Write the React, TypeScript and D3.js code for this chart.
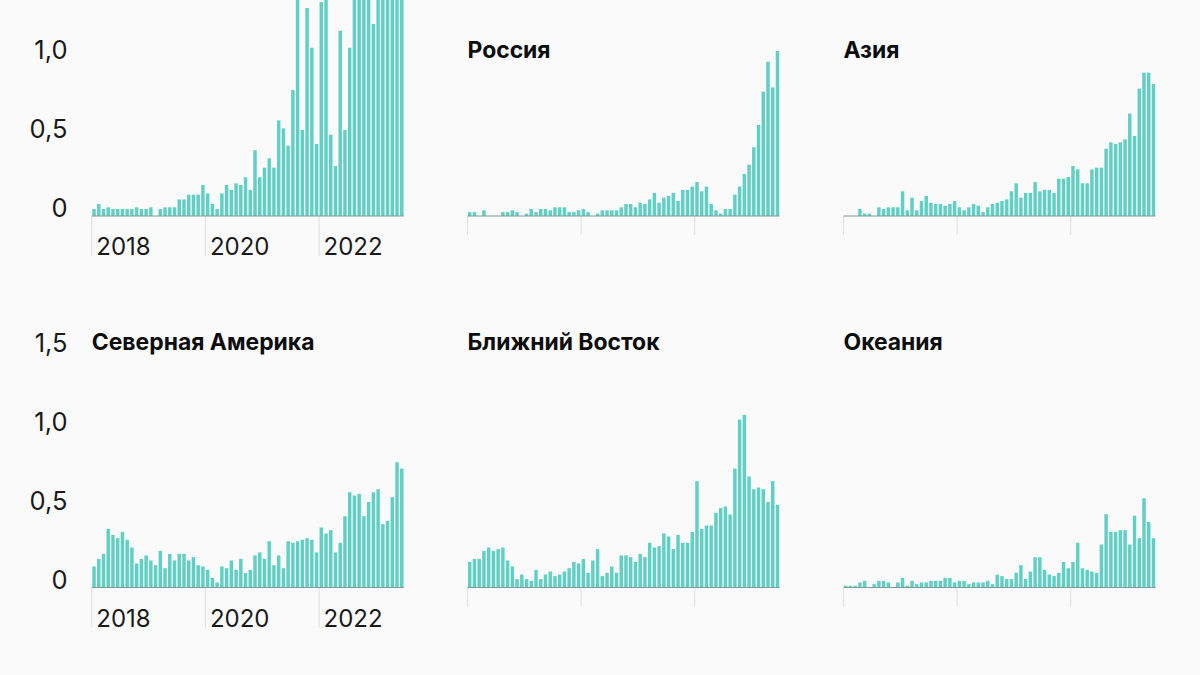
import * as d3 from "d3";

// 66 months, Jan 2018 - Jun 2023
const months = d3.timeMonth.range(new Date(2018, 0, 1), new Date(2023, 6, 1));
const yearTicks = [new Date(2018, 0, 1), new Date(2020, 0, 1), new Date(2022, 0, 1)];

const world = [
  .044, .076, .044, .055, .044, .044, .044, .044, .044, .055, .044, .044, .055, 0, .044, .055, .055, .055,
  .105, .105, .135, .135, .135, .196, .143, .076, .044, .143, .196, .165, .207, .196, .245, .165, .416,
  .245, .306, .365, .306, .605, .555, .445, .797, 1.5, .544, 1.316, 1.065, .456, 1.354, 1.42, .515, .316,
  1.173, .544, 1.065, 1.5, 1.6, 1.55, 1.7, 1.215, 1.6, 1.65, 1.7, 1.6, 1.8, 1.7,
];
const russia = [
  .025, .025, 0, .036, 0, 0, 0, .025, .025, .036, .025, 0, .015, .044, .025, .044, .044, .036, .055, .055,
  .055, .025, .025, .036, .044, .025, 0, .015, .036, .036, .036, .036, .055, .076, .076, .055, .084, .076,
  .105, .146, .084, .116, .127, .146, .095, .165, .165, .186, .215, .156, .186, .076, .036, .015, .044, .044,
  .135, .186, .266, .325, .435, .576, .787, .977, .814, 1.044,
];
const asia = [
  0, 0, 0, .044, .015, .015, 0, .055, .044, .055, .055, .055, .156, .036, .116, .036, .095, .127, .084, .076,
  .076, .065, .076, .095, .055, .036, .055, .076, .065, .025, .055, .076, .084, .095, .105, .156, .207, .116,
  .146, .146, .215, .156, .165, .165, .146, .236, .236, .247, .316, .295, .207, .207, .295, .306, .306, .426,
  .466, .456, .466, .485, .648, .506, .806, .907, .907, .835,
];
const northAmerica = [
  .133, .181, .213, .371, .333, .312, .352, .302, .253, .152, .181, .203, .171, .141, .232, .122, .213, .171,
  .213, .213, .171, .192, .141, .133, .112, .061, .032, .133, .122, .171, .112, .181, .091, .112, .203, .222,
  .181, .293, .141, .203, .122, .293, .283, .293, .302, .312, .302, .222, .38, .342, .363, .222, .283, .451,
  .603, .582, .593, .451, .542, .603, .622, .401, .422, .572, .793, .753,
];
const middleEast = [
  .162, .181, .181, .232, .253, .232, .243, .253, .171, .133, .053, .082, .053, .042, .112, .053, .082, .101,
  .072, .082, .101, .122, .162, .152, .181, .093, .171, .243, .072, .093, .133, .093, .203, .203, .192, .162,
  .213, .192, .283, .253, .262, .342, .323, .243, .333, .283, .283, .352, .673, .371, .392, .392, .473, .502,
  .513, .462, .753, 1.063, 1.093, .703, .622, .633, .622, .542, .673, .523,
];
const oceania = [
  .011, .011, .011, .032, .042, 0, .021, .042, .042, .032, 0, .032, .061, .011, .042, .021, .032, .032, .042,
  .042, .042, .061, .061, .032, .042, .042, .021, .032, .032, .032, .042, .021, .082, .072, .053, .053, .093,
  .141, .053, .101, .192, .192, .112, .082, .072, .093, .162, .122, .162, .283, .122, .112, .101, .093, .272,
  .464, .352, .352, .363, .363, .272, .454, .312, .565, .414, .312,
];

const panels = [
  { title: "", values: world, left: 92.3, base: 216, titleY: 58, ticks: [0, 0.5, 1], years: true },
  { title: "Россия", values: russia, left: 468, base: 216, titleY: 58, ticks: [], years: false },
  { title: "Азия", values: asia, left: 844, base: 216, titleY: 58, ticks: [], years: false },
  { title: "Северная Америка", values: northAmerica, left: 92.3, base: 587.5, titleY: 350, ticks: [0, 0.5, 1, 1.5], years: true },
  { title: "Ближний Восток", values: middleEast, left: 468, base: 587.5, titleY: 350, ticks: [], years: false },
  { title: "Океания", values: oceania, left: 844, base: 587.5, titleY: 350, ticks: [], years: false },
];

const font = "Inter, 'Noto Sans', sans-serif";
const fmt = (v: number) => (v === 0 ? "0" : d3.format(".1f")(v).replace(".", ","));

function Panel({ title, values, left, base, titleY, ticks, years }: (typeof panels)[number]) {
  const x = d3.scaleBand<Date>().domain(months).range([left, left + 311.2]).paddingInner(0.27).paddingOuter(0);
  const y = d3.scaleLinear().domain([0, 1]).range([base, base - 158]);

  return (
    <g>
      {yearTicks.map((d) => (
        <g key={d.getFullYear()}>
          <line
            x1={x(d)! - 0.5}
            x2={x(d)! - 0.5}
            y1={base}
            y2={base + (years ? 40 : 19)}
            stroke="#e2e2e2"
            strokeWidth={1.2}
          />
          {years && (
            <text x={x(d)! + 4} y={base + 39} fontSize={24} fill="#1a1a1a" fontFamily={font}>
              {d.getFullYear()}
            </text>
          )}
        </g>
      ))}
      {values.map((v, i) => (
        <rect key={i} x={x(months[i])} y={y(v)} width={x.bandwidth()} height={y(0) - y(v)} fill="#5fd0c3" />
      ))}
      <line x1={left - 0.5} x2={left + 311.5} y1={base} y2={base} stroke="#7f9a97" strokeWidth={1.2} />
      {ticks.map((t) => (
        <text key={t} x={67.5} y={y(t) - 8} dy="0.36em" textAnchor="end" fontSize={25.5} fill="#1a1a1a" fontFamily={font}>
          {fmt(t)}
        </text>
      ))}
      {title && (
        <text x={left - 0.5} y={titleY} fontSize={22.9} fontWeight={700} fill="#0d0d0d" fontFamily={font}>
          {title}
        </text>
      )}
    </g>
  );
}

export default function App() {
  return (
    <svg width={1200} height={675} style={{ position: "fixed", left: 0, top: 0 }}>
      <rect width={1200} height={675} fill="#fafafa" />
      {panels.map((p, i) => (
        <Panel key={i} {...p} />
      ))}
    </svg>
  );
}
